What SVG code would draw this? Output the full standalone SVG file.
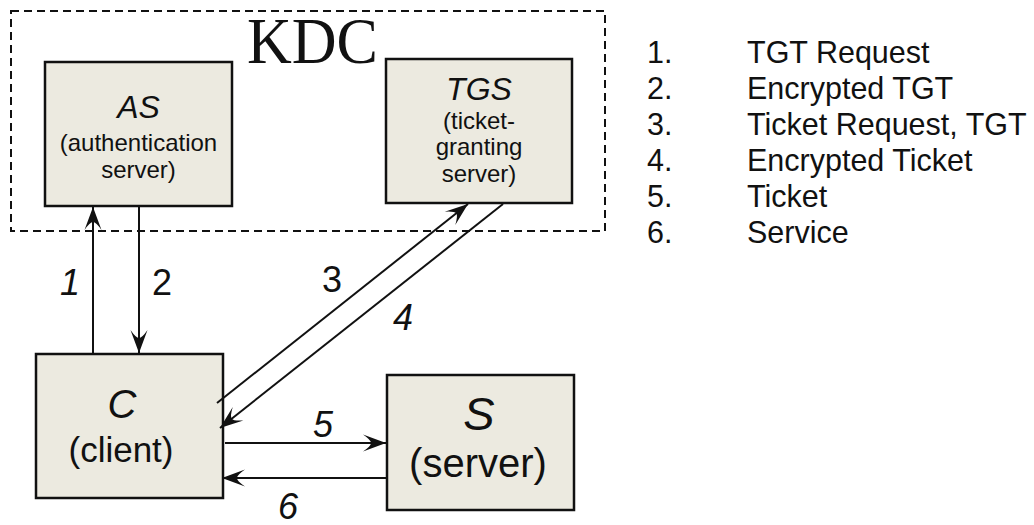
<svg xmlns="http://www.w3.org/2000/svg" width="1034" height="525" viewBox="0 0 1034 525">
  <style>
    .box { fill: #ECEAE0; stroke: #111; stroke-width: 2.5; }
    .kdc { fill: none; stroke: #111; stroke-width: 2; stroke-dasharray: 8 5; }
    .conn { fill: none; stroke: #111; stroke-width: 2; marker-end: url(#head); }
    text { font-family: "Liberation Sans", Arial, sans-serif; fill: #111; }
    text.serif { font-family: "Liberation Serif", "Times New Roman", serif; font-size: 66px; }
    .mid { text-anchor: middle; }
    .it { font-style: italic; }
    .title { font-size: 32px; }
    .sub { font-size: 24px; }
    .num { font-size: 36px; }
    .legend { font-size: 30.5px; }
  </style>
  <defs>
    <marker id="head" markerUnits="userSpaceOnUse" viewBox="-26 -10 28 20" refX="0" refY="0" markerWidth="28" markerHeight="20" orient="auto">
      <path d="M0,0 L-23,-8.5 Q-15,-3 -15,0 Q-15,3 -23,8.5 Z" fill="#111"/>
    </marker>
  </defs>

  <!-- KDC boundary -->
  <g id="kdc">
    <rect class="kdc" x="11" y="11" width="594" height="220"/>
    <text class="serif" x="247" y="63" textLength="131" lengthAdjust="spacingAndGlyphs">KDC</text>
  </g>

  <!-- Authentication server -->
  <g id="as">
    <rect class="box" x="45" y="62" width="187" height="144"/>
    <text class="mid it title" x="138.5" y="118">AS</text>
    <text class="mid sub" x="138.5" y="151">(authentication</text>
    <text class="mid sub" x="138.5" y="178">server)</text>
  </g>

  <!-- Ticket-granting server -->
  <g id="tgs">
    <rect class="box" x="386" y="59" width="186" height="144"/>
    <text class="mid it title" x="479" y="100">TGS</text>
    <text class="mid sub" x="479" y="129">(ticket-</text>
    <text class="mid sub" x="479" y="155">granting</text>
    <text class="mid sub" x="479" y="182">server)</text>
  </g>

  <!-- Client -->
  <g id="client">
    <rect class="box" x="36" y="354" width="187" height="144"/>
    <text class="mid it" x="122" y="418" font-size="40">C</text>
    <text class="mid" x="121" y="462" font-size="35">(client)</text>
  </g>

  <!-- Service server -->
  <g id="server">
    <rect class="box" x="387" y="375" width="187" height="135"/>
    <text class="mid it" x="479" y="430" font-size="47">S</text>
    <text class="mid" x="478" y="477" font-size="40">(server)</text>
  </g>

  <!-- Message flows -->
  <g id="connectors">
    <line class="conn" x1="93" y1="354" x2="93" y2="207"/>
    <line class="conn" x1="139" y1="207" x2="139" y2="353"/>
    <line class="conn" x1="217" y1="403" x2="468" y2="204"/>
    <line class="conn" x1="503" y1="204" x2="220" y2="428"/>
    <line class="conn" x1="225" y1="443" x2="386" y2="443"/>
    <line class="conn" x1="387" y1="478" x2="222" y2="478"/>
  </g>

  <!-- Step numbers -->
  <g id="step-labels">
    <text class="mid num it" x="70" y="295">1</text>
    <text class="mid num" x="162" y="295">2</text>
    <text class="mid num" x="332" y="292">3</text>
    <text class="mid num it" x="403" y="330">4</text>
    <text class="mid num it" x="323" y="437">5</text>
    <text class="mid num it" x="288" y="519">6</text>
  </g>

  <!-- Legend -->
  <g id="legend" class="legend">
    <text x="647" y="63">1.</text><text x="747" y="63">TGT Request</text>
    <text x="647" y="99">2.</text><text x="747" y="99">Encrypted TGT</text>
    <text x="647" y="135">3.</text><text x="747" y="135">Ticket Request, TGT</text>
    <text x="647" y="171">4.</text><text x="747" y="171">Encrypted Ticket</text>
    <text x="647" y="207">5.</text><text x="747" y="207">Ticket</text>
    <text x="647" y="243">6.</text><text x="747" y="243">Service</text>
  </g>
</svg>
